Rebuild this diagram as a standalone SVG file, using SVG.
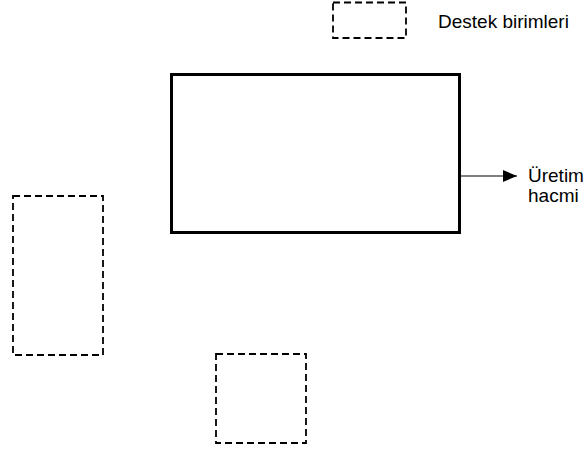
<svg xmlns="http://www.w3.org/2000/svg" width="587" height="451" viewBox="0 0 587 451">
<style>
.dash{fill:none;stroke:#000;stroke-width:1.8;stroke-dasharray:7,4}
.main{fill:none;stroke:#000;stroke-width:3}
.conn{stroke:#000;stroke-width:1.2;fill:none}
text{font-family:"Liberation Sans",Arial,sans-serif;font-size:19px;fill:#000}
</style>
<defs>
<marker id="arr" markerWidth="14" markerHeight="12" refX="14" refY="6" orient="auto" markerUnits="userSpaceOnUse">
<path d="M0,0 L14,6 L0,12 Z" fill="#000"/>
</marker>
</defs>
<g id="legend">
<rect class="dash" x="333" y="2.5" width="73" height="35.5"/>
<text x="438" y="28">Destek birimleri</text>
</g>
<g id="main">
<rect class="main" x="171.5" y="74.5" width="288" height="158"/>
</g>
<g id="left">
<rect class="dash" x="13" y="196" width="90" height="159"/>
</g>
<g id="bottom">
<rect class="dash" x="216" y="354" width="90" height="89"/>
</g>
<g id="output">
<text x="528" y="182">Üretim</text>
<text x="528" y="202">hacmi</text>
</g>
<g id="connectors">
<line class="conn" x1="461" y1="176" x2="517" y2="176" marker-end="url(#arr)"/>
</g>
</svg>
